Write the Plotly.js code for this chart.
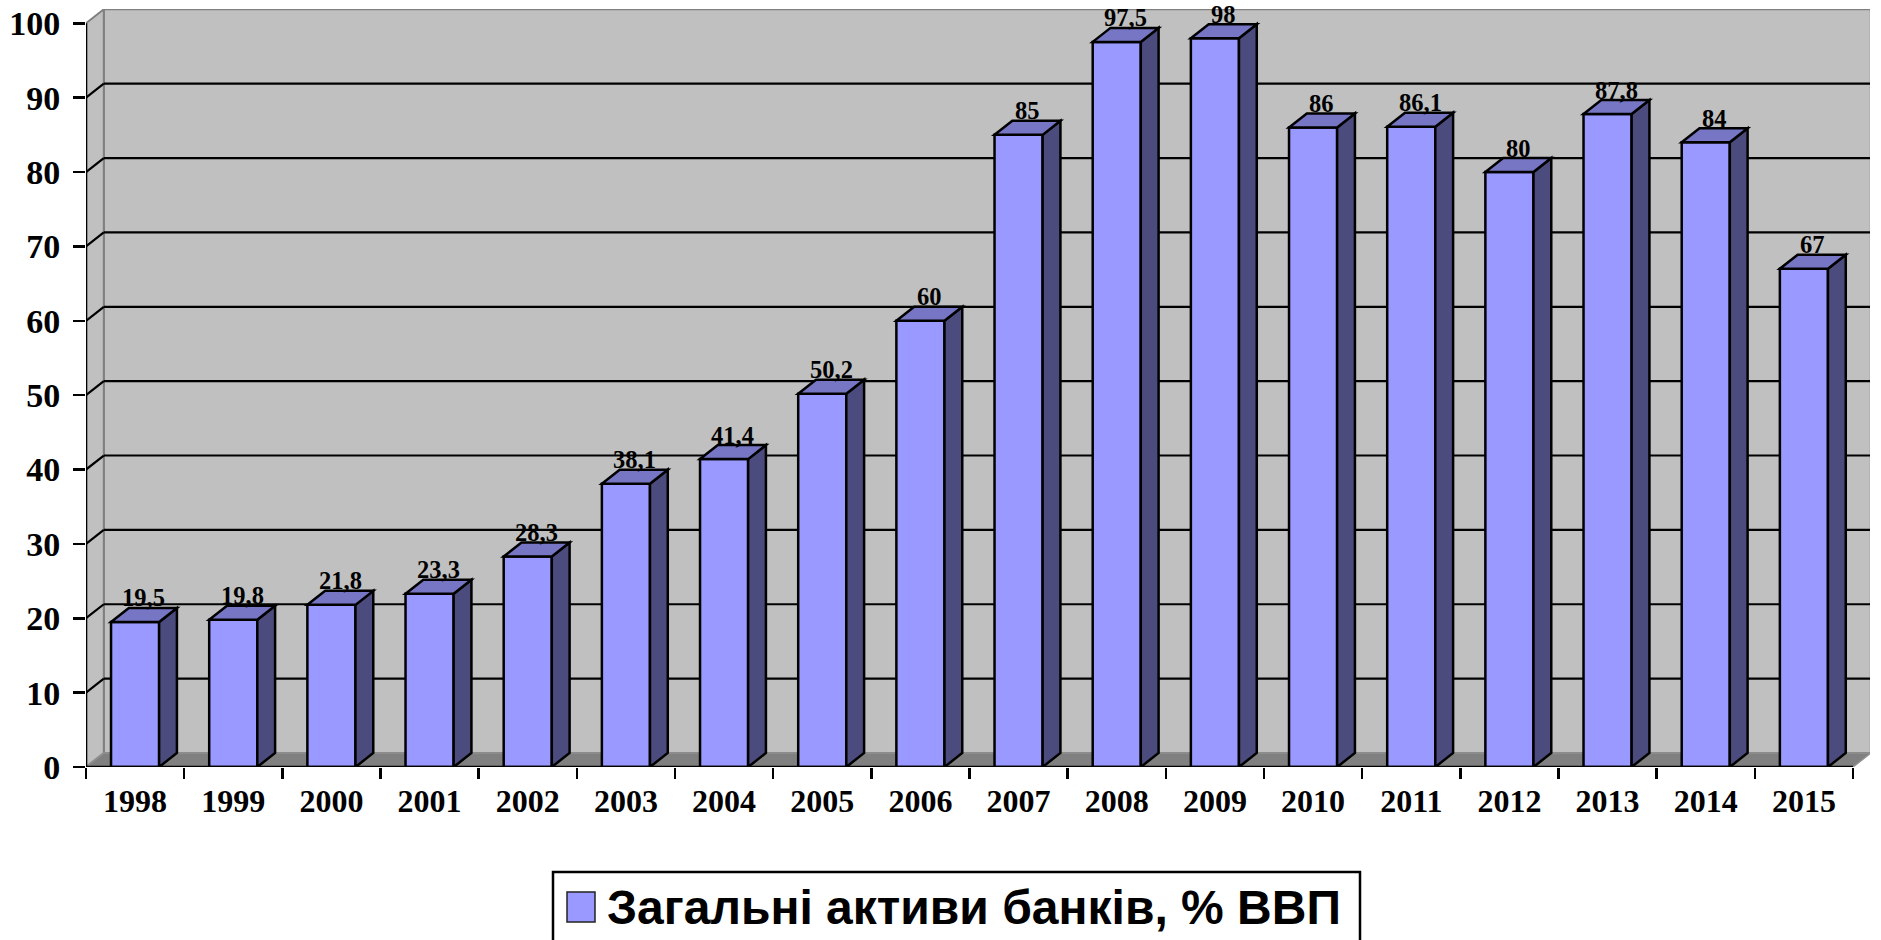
<!DOCTYPE html>
<html><head><meta charset="utf-8">
<script src="https://cdn.plot.ly/plotly-3.0.1.min.js"></script>
<style>html,body{margin:0;padding:0;background:#fff}#chart{width:1881px;height:940px}</style>
</head><body><div id="chart"></div>
<script>
// ---- data ----
const years = ['1998','1999','2000','2001','2002','2003','2004','2005','2006','2007','2008','2009','2010','2011','2012','2013','2014','2015'];
const assetsPctGDP = [19.5, 19.8, 21.8, 23.3, 28.3, 38.1, 41.4, 50.2, 60, 85, 97.5, 98, 86, 86.1, 80, 87.8, 84, 67];
const yTicks = [0, 10, 20, 30, 40, 50, 60, 70, 80, 90, 100];
const seriesName = 'Загальні активи банків, % ВВП';

// ---- geometry (pixels of the 3D box) ----
const W = 1881, H = 940;
const plotL = 86, plotR = 1870, plotT = 9, plotB = 767;
const catPx = (1853 - plotL) / years.length;
const xMin = -0.5, xMax = -0.5 + (plotR - plotL) / catPx;
const unitPx = (plotB - 23.3) / 100;
const yMax = (plotB - plotT) / unitPx;
const dX = 17.8 / catPx, dY = 14 / unitPx;
const barW = 0.49;
const xEnd = years.length - 0.5;
const yTop = yTicks[yTicks.length - 1];

const serif = 'Liberation Serif, Times New Roman, serif';
const sans = 'Liberation Sans, Arial, sans-serif';

function path(pts) { return 'M' + pts.map(p => p[0] + ',' + p[1]).join(' L') + ' Z'; }
function px(X) { return (X - plotL) / (plotR - plotL); }
function py(Y) { return (plotB - Y) / (plotB - plotT); }

const shapes = [];
// back wall
shapes.push({type:'path', xref:'x', yref:'y', layer:'below', path: path([[xMin+dX,dY],[xEnd+dX,dY],[xEnd+dX,yTop+dY],[xMin+dX,yTop+dY]]), fillcolor:'#C0C0C0', line:{color:'#808080', width:2}});
// left side wall
shapes.push({type:'path', xref:'x', yref:'y', layer:'below', path: path([[xMin,0],[xMin+dX,dY],[xMin+dX,yTop+dY],[xMin,yTop]]), fillcolor:'#C0C0C0', line:{color:'#808080', width:2}});
// floor
shapes.push({type:'path', xref:'x', yref:'y', layer:'below', path: path([[xMin,0],[xEnd,0],[xEnd+dX,dY],[xMin+dX,dY]]), fillcolor:'#808080', line:{color:'#909090', width:1.5}});
// gridlines
yTicks.forEach(v => {
  if (v === 0 || v === yTop) return;
  shapes.push({type:'line', xref:'x', yref:'y', layer:'below', x0:xMin+dX, y0:v+dY, x1:xEnd+dX, y1:v+dY, line:{color:'#000', width:2.2}});
  shapes.push({type:'line', xref:'x', yref:'y', layer:'below', x0:xMin, y0:v, x1:xMin+dX, y1:v+dY, line:{color:'#000', width:2.2}});
});
// bar side and top faces
assetsPctGDP.forEach((v, i) => {
  const r = i + barW/2, l = i - barW/2;
  shapes.push({type:'path', xref:'x', yref:'y', layer:'above', path: path([[r,0],[r+dX,dY],[r+dX,v+dY],[r,v]]), fillcolor:'#4B4B7E', line:{color:'#000', width:2.5}});
  shapes.push({type:'path', xref:'x', yref:'y', layer:'above', path: path([[l,v],[r,v],[r+dX,v+dY],[l+dX,v+dY]]), fillcolor:'#7676C4', line:{color:'#000', width:2.5}});
});
// axis lines
shapes.push({type:'line', xref:'x', yref:'y', layer:'above', x0:xMin, y0:0, x1:xMin, y1:yTop, line:{color:'#000', width:2.6}});
shapes.push({type:'line', xref:'x', yref:'y', layer:'above', x0:xMin, y0:0, x1:xEnd, y1:0, line:{color:'#000', width:2.6}});
// legend box + swatch
shapes.push({type:'rect', xref:'paper', yref:'paper', x0:px(553), x1:px(1360), y0:py(872), y1:py(960), fillcolor:'#fff', line:{color:'#000', width:2.5}});
shapes.push({type:'rect', xref:'paper', yref:'paper', x0:px(567), x1:px(595), y0:py(892), y1:py(922), fillcolor:'#9999FF', line:{color:'#222', width:1.5}});

const annotations = assetsPctGDP.map((v, i) => ({
  xref:'x', yref:'y', x: i + dX/2, y: v + dY, xanchor:'center', yanchor:'bottom', yshift:-4.5, borderpad:0,
  text: String(v).replace('.', ','), showarrow:false,
  font:{family:serif, size:24.5, weight:'bold', color:'#000'}
}));
annotations.push({xref:'paper', yref:'paper', x:px(605), y:py(907), xanchor:'left', yanchor:'middle', showarrow:false,
  text: seriesName, font:{family:sans, size:48, weight:'bold', color:'#000'}});

const data = [{
  type:'bar', x: years, y: assetsPctGDP, name: seriesName, width: barW,
  marker:{color:'#9999FF', line:{color:'#000', width:2.5}}, hoverinfo:'x+y'
}];

const layout = {
  width: W, height: H,
  margin:{l:plotL, r:W-plotR, t:plotT, b:H-plotB, pad:0},
  paper_bgcolor:'#fff', plot_bgcolor:'rgba(0,0,0,0)',
  showlegend:false,
  xaxis:{type:'category', categoryorder:'array', categoryarray:years, range:[xMin, xMax],
    tickson:'boundaries', ticks:'outside', ticklen:11, tickwidth:2.5, tickcolor:'#000',
    showgrid:false, showline:false, zeroline:false, fixedrange:true, ticklabelstandoff:12,
    tickfont:{family:serif, size:32, weight:'bold', color:'#000'}},
  yaxis:{range:[0, yMax], tickmode:'array', tickvals:yTicks, ticks:'outside', ticklen:12, tickwidth:2.5, tickcolor:'#000',
    showgrid:false, showline:false, zeroline:false, fixedrange:true, ticklabelstandoff:6,
    tickfont:{family:serif, size:34, weight:'bold', color:'#000'}},
  shapes: shapes, annotations: annotations
};

Plotly.newPlot('chart', data, layout, {displayModeBar:false, staticPlot:true});
</script>
</body></html>
